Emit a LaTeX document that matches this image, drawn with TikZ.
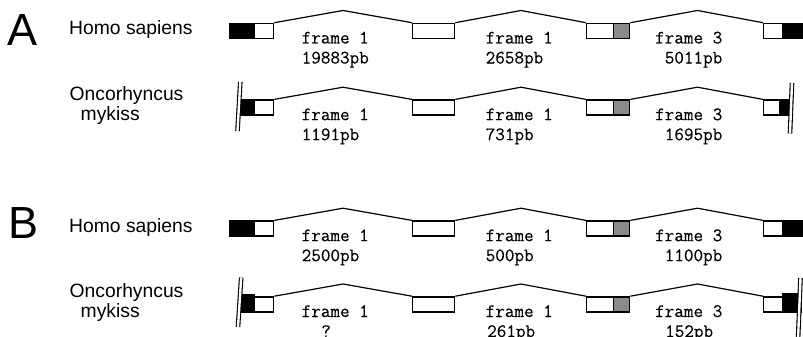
\documentclass[tikz,border=0pt]{standalone}
\usepackage{fontspec}
\setmainfont{Liberation Sans}
\setmonofont[FakeStretch=0.98,FakeBold=0.3]{Latin Modern Mono}
\definecolor{exgray}{RGB}{138,138,138}
\tikzset{
  exon/.style={draw, line width=1.3pt, inner sep=0pt, minimum height=15pt, anchor=north west, fill=white},
  coding/.style={exon, fill=black},
  shaded/.style={exon, fill=exgray},
  intron/.style={line width=1.2pt, line join=miter},
  lab/.style={font=\fontsize{19.3}{23}\selectfont, inner sep=0pt, anchor=base west},
  panel/.style={font=\fontsize{45}{50}\selectfont, inner sep=0pt, anchor=base west},
  seq/.style={font=\ttfamily\fontsize{19}{22}\selectfont, inner sep=0pt, anchor=base west},
  seqr/.style={seq, anchor=base east},
  brk/.style={double, double distance=2.4pt, line width=1.1pt}
}
\begin{document}
\begin{tikzpicture}[x=1pt,y=-1pt]
\clip (0,0) rectangle (803,337);
\useasboundingbox (0,0) rectangle (803,337);

% panel letters and species labels
\node[panel] (pA) at (7,45.7) {A};
\node[panel] (pB) at (8.5,238.7) {B};
\node[lab] (ahs) at (69,34.3) {Homo sapiens};
\node[lab] (aon) at (69.5,100) {Oncorhyncus};
\node[lab] (amy) at (80.5,120.7) {mykiss};
\node[lab] (bhs) at (69,232) {Homo sapiens};
\node[lab] (bon) at (69.5,297) {Oncorhyncus};
\node[lab] (bmy) at (80.5,317.7) {mykiss};

% ---------- Row A, Homo sapiens ----------
\node[coding, minimum width=25.5pt] (ah1k) at (228.5,22.7) {};
\node[exon, minimum width=19pt] (ah1w) at (254,22.7) {};
\node[exon, minimum width=42pt] (ah2) at (412,22.7) {};
\node[exon, minimum width=27pt] (ah3w) at (586,22.7) {};
\node[shaded, minimum width=16pt] (ah3g) at (613,22.7) {};
\node[exon, minimum width=18.5pt] (ah4w) at (763,22.7) {};
\node[coding, minimum width=20pt] (ah4k) at (781.5,22.7) {};
\coordinate (ahp1) at (343,10.5);
\coordinate (ahp2) at (521,10.5);
\coordinate (ahp3) at (697.5,10.5);
\draw[intron] (ah1w.north east) -- (ahp1) -- (ah2.north west);
\draw[intron] (ah2.north east) -- (ahp2) -- (ah3w.north west);
\draw[intron] (ah3g.north east) -- (ahp3) -- (ah4w.north west);
\node[seq] (ahf1) at (301.5,43.5) {frame 1};
\node[seq] (ahl1) at (301.5,63.5) {19883pb};
\node[seq] (ahf2) at (485.5,43.5) {frame 1};
\node[seq] (ahl2) at (485.5,63.5) {2658pb};
\node[seqr] (ahf3) at (722.5,43.5) {frame 3};
\node[seqr] (ahl3) at (722.5,63.5) {5011pb};

% ---------- Row A, Oncorhyncus mykiss ----------
\node[coding, minimum width=15pt] (am1k) at (239,99.4) {};
\node[exon, minimum width=19pt] (am1w) at (254,99.4) {};
\node[exon, minimum width=42pt] (am2) at (412,99.4) {};
\node[exon, minimum width=27pt] (am3w) at (586,99.4) {};
\node[shaded, minimum width=16pt] (am3g) at (613,99.4) {};
\node[exon, minimum width=16pt] (am4w) at (763,99.4) {};
\node[coding, minimum width=13pt] (am4k) at (779,99.4) {};
\coordinate (amp1) at (343,87.2);
\coordinate (amp2) at (521,87.2);
\coordinate (amp3) at (697.5,87.2);
\draw[intron] (am1w.north east) -- (amp1) -- (am2.north west);
\draw[intron] (am2.north east) -- (amp2) -- (am3w.north west);
\draw[intron] (am3g.north east) -- (amp3) -- (am4w.north west);
\draw[brk] (240.3,82) -- (237.5,131);
\draw[brk] (792,83) -- (790,133.5);
\node[seq] (amf1) at (301.5,120.2) {frame 1};
\node[seq] (aml1) at (301.5,140.2) {1191pb};
\node[seq] (amf2) at (485.5,120.2) {frame 1};
\node[seq] (aml2) at (485.5,140.2) {731pb};
\node[seqr] (amf3) at (722.5,120.2) {frame 3};
\node[seqr] (aml3) at (722.5,140.2) {1695pb};

% ---------- Row B, Homo sapiens ----------
\node[coding, minimum width=25.5pt] (bh1k) at (228.5,220.4) {};
\node[exon, minimum width=19pt] (bh1w) at (254,220.4) {};
\node[exon, minimum width=42pt] (bh2) at (412,220.4) {};
\node[exon, minimum width=27pt] (bh3w) at (586,220.4) {};
\node[shaded, minimum width=16pt] (bh3g) at (613,220.4) {};
\node[exon, minimum width=18.5pt] (bh4w) at (763,220.4) {};
\node[coding, minimum width=20pt] (bh4k) at (781.5,220.4) {};
\coordinate (bhp1) at (343,208.2);
\coordinate (bhp2) at (521,208.2);
\coordinate (bhp3) at (697.5,208.2);
\draw[intron] (bh1w.north east) -- (bhp1) -- (bh2.north west);
\draw[intron] (bh2.north east) -- (bhp2) -- (bh3w.north west);
\draw[intron] (bh3g.north east) -- (bhp3) -- (bh4w.north west);
\node[seq] (bhf1) at (301.5,241.2) {frame 1};
\node[seq] (bhl1) at (301.5,261.2) {2500pb};
\node[seq] (bhf2) at (485.5,241.2) {frame 1};
\node[seq] (bhl2) at (485.5,261.2) {500pb};
\node[seqr] (bhf3) at (722.5,241.2) {frame 3};
\node[seqr] (bhl3) at (722.5,261.2) {1100pb};

% ---------- Row B, Oncorhyncus mykiss ----------
\node[coding, minimum width=15pt, minimum height=17pt] (bm1k) at (239,294.2) {};
\node[exon, minimum width=19pt] (bm1w) at (254,296.2) {};
\node[exon, minimum width=42pt] (bm2) at (412,296.2) {};
\node[exon, minimum width=27pt] (bm3w) at (586,296.2) {};
\node[shaded, minimum width=16pt] (bm3g) at (613,296.2) {};
\node[exon, minimum width=19pt] (bm4w) at (763,296.2) {};
\node[coding, minimum width=19pt, minimum height=18pt] (bm4k) at (782,293.2) {};
\coordinate (bmp1) at (343,284);
\coordinate (bmp2) at (521,284);
\coordinate (bmp3) at (697.5,284);
\draw[intron] (bm1w.north east) -- (bmp1) -- (bm2.north west);
\draw[intron] (bm2.north east) -- (bmp2) -- (bm3w.north west);
\draw[intron] (bm3g.north east) -- (bmp3) -- (bm4w.north west);
\draw[brk] (241.2,277.5) -- (238,327);
\draw[brk] (800.5,278) -- (798,340);
\node[seq] (bmf1) at (301.5,317) {frame 1};
\node[seq] (bml1) at (321.1,337) {?};
\node[seq] (bmf2) at (485.5,317) {frame 1};
\node[seq] (bml2) at (487,337) {261pb};
\node[seqr] (bmf3) at (722.5,317) {frame 3};
\node[seq] (bml3) at (665,337) {152pb};
\end{tikzpicture}
\end{document}
